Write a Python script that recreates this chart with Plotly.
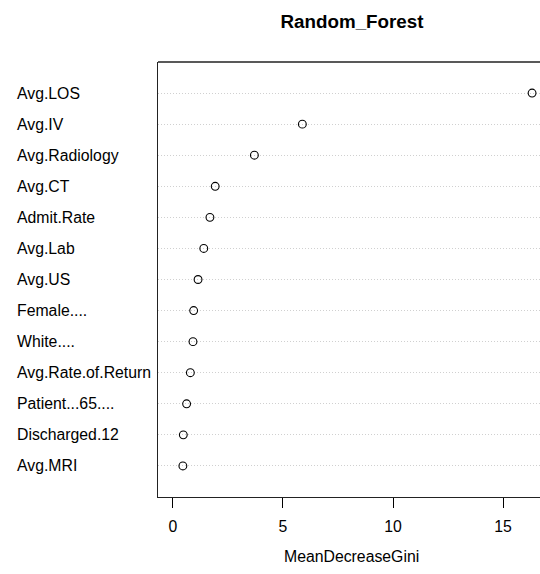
import plotly.graph_objects as go

# Variables (top to bottom as shown) and their MeanDecreaseGini values
variables = ["Avg.LOS", "Avg.IV", "Avg.Radiology", "Avg.CT", "Admit.Rate", "Avg.Lab",
             "Avg.US", "Female....", "White....", "Avg.Rate.of.Return", "Patient...65....",
             "Discharged.12", "Avg.MRI"]
gini = [16.32, 5.88, 3.70, 1.92, 1.68, 1.40, 1.14, 0.94, 0.91, 0.79, 0.62, 0.47, 0.45]
x_ticks = [0, 5, 10, 15]
title_text = "Random_Forest"
x_label = "MeanDecreaseGini"

n = len(variables)
rows = [n - i for i in range(n)]  # top row = n

FONT = "Liberation Sans, Arial, sans-serif"
FS = 15.8
W, H = 540, 574
ML, MR, MT, MB = 158, 0, 62, 77
PW, PH = W - ML - MR, H - MT - MB

fig = go.Figure()
fig.add_trace(go.Scatter(
    x=gini, y=rows, mode="markers",
    marker=dict(symbol="circle-open", size=7.8, color="black", line=dict(width=1.1, color="black")),
    hoverinfo="x+text", text=variables, showlegend=False,
))

# left-aligned row labels
for v, r in zip(variables, rows):
    fig.add_annotation(x=(15 - ML) / PW, xref="paper", y=r, yref="y", text=v,
                       xanchor="left", yanchor="middle", showarrow=False,
                       font=dict(family=FONT, size=FS, color="black"))

# x axis title
fig.add_annotation(x=(351 - ML) / PW, xref="paper", y=(-(556.7 - (MT + PH))) / PH, yref="paper",
                   text=x_label, xanchor="center", yanchor="middle", showarrow=False,
                   font=dict(family=FONT, size=FS, color="black"))

# top border of the box (right side lies beyond the window)
fig.add_shape(type="line", xref="paper", yref="paper", x0=0, x1=1.05, y0=1, y1=1,
              line=dict(color="#222", width=1.3), layer="above")

fig.update_layout(
    width=W, height=H,
    margin=dict(l=ML, r=MR, t=MT, b=MB, pad=0),
    paper_bgcolor="white", plot_bgcolor="white",
    font=dict(family=FONT, size=FS, color="black"),
    title=dict(text="<b>" + title_text + "</b>", x=352 / W, xref="container", xanchor="center",
               y=1 - 21 / H, yref="container", yanchor="middle",
               font=dict(family=FONT, size=18.8, color="black")),
    xaxis=dict(range=[-0.68, 16.68], tickvals=x_ticks, ticktext=[str(t) for t in x_ticks],
               ticks="outside", ticklen=10, tickwidth=1, tickcolor="black",
               showline=True, linecolor="#222", linewidth=1.3, mirror=False,
               showgrid=False, zeroline=False, ticklabelstandoff=5,
               tickfont=dict(family=FONT, size=FS, color="black")),
    yaxis=dict(range=[0, n + 1], tickvals=rows, showticklabels=False, ticks="",
               showline=True, linecolor="#222", linewidth=1.3, mirror=False,
               showgrid=True, gridcolor="#d0d0d0", griddash="1px,2px", gridwidth=1,
               zeroline=False),
)

fig.write_html("out.html")
